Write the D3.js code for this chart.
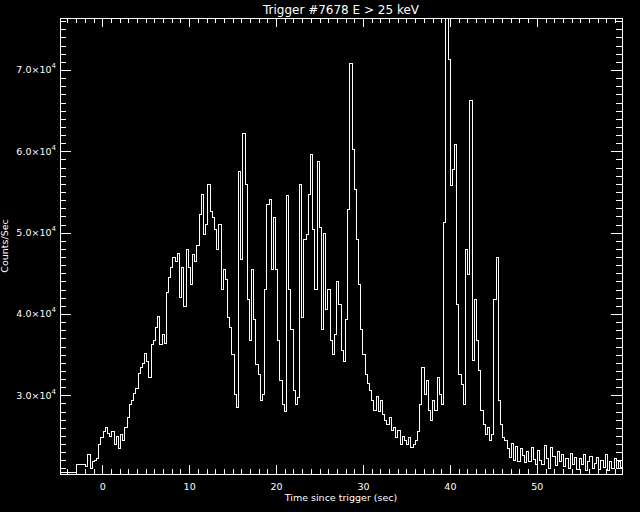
<!DOCTYPE html>
<html>
<head>
<meta charset="utf-8">
<script src="https://cdn.jsdelivr.net/npm/d3@7"></script>
<style>
  html, body { margin: 0; padding: 0; background: #000; }
  svg { display: block; background: #000; }
  text { fill: #fff; font-family: "DejaVu Sans", sans-serif; }
</style>
</head>
<body>
<svg id="chart" width="640" height="512"></svg>
<script>
// pre-trigger bins (1.024 s)
const preStart = [-4.86, -2.93];
const preCounts = [20480, 21510];

// burst bins, fixed width from fineStart
const fineStart = -1.91;
const binWidth = 0.2512;
const counts = [
  21300, 22660, 21060, 21800, 22040, 22290, 23890, 24750, 25490, 25980, // -1.9
  25360, 24990, 25610, 23890, 24990, 23520, 25120, 24500, 26100, 27210, // 0.6
  28810, 29420, 30280, 30780, 32620, 33360, 33850, 35080, 34100, 32130, // 3.1
  36190, 36800, 38280, 39630, 36190, 37420, 36310, 42580, 44430, 45660, // 5.6
  46890, 46400, 47380, 41970, 45660, 40980, 47870, 45660, 43570, 47260, // 8.1
  46400, 48360, 52180, 54640, 49720, 50950, 55870, 52550, 51810, 50330, // 10.6
  47870, 50950, 42950, 45410, 44180, 39510, 38280, 34960, 30040, 28440, // 13.2
  57470, 46640, 62140, 55870, 41720, 36800, 45410, 39260, 33730, 32500, // 15.7
  29420, 30040, 42950, 53410, 54020, 45410, 51810, 45410, 36800, 31880, // 18.2
  28810, 27950, 54510, 42950, 38030, 30650, 28810, 29670, 55870, 39510, // 20.7
  49100, 49720, 54640, 59560, 50330, 42950, 58700, 50580, 38030, 49840, // 23.2
  40490, 42950, 36800, 34960, 37420, 43940, 41110, 35570, 34100, 39260, // 25.7
  52790, 70750, 60170, 55250, 49100, 43570, 38030, 34960, 32500, 31510, // 28.2
  30650, 29420, 28190, 29910, 27950, 29420, 27580, 26960, 26350, 27210, // 30.7
  25730, 25980, 24750, 25730, 23890, 24990, 24500, 23890, 24750, 23640, // 33.3
  24010, 24500, 25490, 28810, 33360, 30040, 31880, 28190, 26960, 29420, // 35.8
  28190, 32130, 30040, 28810, 51190, 78500, 71240, 55740, 57710, 60790, // 38.3
  41110, 32500, 31270, 28810, 47870, 44800, 66200, 34340, 41720, 36800, // 40.8
  33110, 28190, 26350, 25120, 25980, 24500, 25120, 41720, 46890, 29420, // 43.3
  26350, 24870, 24500, 23520, 22410, 24130, 22040, 23760, 21920, 23400, // 45.8
  22650, 21680, 23150, 21800, 23640, 22160, 21550, 23270, 22040, 21430, // 48.3
  23880, 22290, 21060, 23640, 22530, 21310, 23030, 21800, 22770, 21190, // 50.8
  22290, 20940, 22900, 21550, 22410, 20820, 22170, 21430, 22660, 20700, // 53.4
  21920, 22530, 20940, 21670, 22410, 20820, 22040, 21180, 22780, 20700, // 55.9
  21920, 21060, 22290, 20940, 21920, 21180                              // 58.4
];

// axis ticks
const xMajor = [0, 10, 20, 30, 40, 50];
const xMinor = d3.range(-4, 60, 1);
const yMajor = [30000, 40000, 50000, 60000, 70000];
const yMinor = d3.range(21000, 77000, 1000);

const titleText = "Trigger #7678 E > 25 keV";
const xTitle = "Time since trigger (sec)";
const yTitle = "Counts/Sec";

const margin = {left: 60, top: 18, right: 18, bottom: 38};
const W = 640, H = 512;
const iw = W - margin.left - margin.right;
const ih = H - margin.top - margin.bottom;

const svg = d3.select("#chart");

const x = d3.scaleLinear().domain([-4.86, 59.8]).range([0, iw]);
const y = d3.scaleLinear().domain([20323, 76394]).range([ih, 0]);

const g = svg.append("g")
    .attr("transform", `translate(${margin.left},${margin.top})`);

// step points
const pts = [];
preStart.forEach((t, i) => pts.push([t, preCounts[i]]));
counts.forEach((c, i) => pts.push([fineStart + i * binWidth, c]));
pts.push([fineStart + counts.length * binWidth, counts[counts.length - 1]]);

svg.append("clipPath").attr("id", "clip")
  .append("rect").attr("width", iw).attr("height", ih);

const line = d3.line()
    .x(d => x(d[0]))
    .y(d => y(d[1]))
    .curve(d3.curveStepAfter);

g.append("path")
    .datum(pts)
    .attr("clip-path", "url(#clip)")
    .attr("d", line)
    .attr("fill", "none")
    .attr("stroke", "#fff")
    .attr("stroke-width", 1)
    .attr("shape-rendering", "crispEdges");

// ticks point inward on all four sides
const xTickLen = ih * 0.02, yTickLen = iw * 0.02;

function styleAxis(sel) {
  sel.select(".domain").remove();
  sel.selectAll("line").attr("stroke", "#fff").attr("shape-rendering", "crispEdges");
  sel.selectAll("text").attr("fill", "#fff").attr("font-family", "DejaVu Sans").attr("font-size", 9.5);
}

g.append("g").attr("transform", `translate(0,${ih})`)
    .call(d3.axisBottom(x).tickValues(xMinor).tickSize(-xTickLen / 2).tickFormat(""))
    .call(styleAxis);
g.append("g").attr("transform", `translate(0,${ih})`)
    .call(d3.axisBottom(x).tickValues(xMajor).tickSize(-xTickLen).tickPadding(9).tickFormat(d3.format("d")))
    .call(styleAxis);
g.append("g")
    .call(d3.axisTop(x).tickValues(xMinor).tickSize(-xTickLen / 2).tickFormat(""))
    .call(styleAxis);
g.append("g")
    .call(d3.axisTop(x).tickValues(xMajor).tickSize(-xTickLen).tickFormat(""))
    .call(styleAxis);

g.append("g")
    .call(d3.axisLeft(y).tickValues(yMinor).tickSize(-yTickLen / 2).tickFormat(""))
    .call(styleAxis);
const yAx = g.append("g")
    .call(d3.axisLeft(y).tickValues(yMajor).tickSize(-yTickLen).tickFormat(""))
    .call(styleAxis);
g.append("g").attr("transform", `translate(${iw},0)`)
    .call(d3.axisRight(y).tickValues(yMinor).tickSize(-yTickLen / 2).tickFormat(""))
    .call(styleAxis);
g.append("g").attr("transform", `translate(${iw},0)`)
    .call(d3.axisRight(y).tickValues(yMajor).tickSize(-yTickLen).tickFormat(""))
    .call(styleAxis);

// y labels like 7.0x10^4
yAx.selectAll(".tick").each(function(d) {
  const exp = Math.floor(Math.log10(d));
  const t = d3.select(this).append("text")
      .attr("x", -4)
      .attr("y", 3)
      .attr("text-anchor", "end")
      .attr("font-size", 9.5);
  t.append("tspan").text((d / Math.pow(10, exp)).toFixed(1) + "\u00d710");
  t.append("tspan").attr("dy", -5).attr("font-size", 7).text(exp);
});

// frame
g.append("rect")
    .attr("width", iw).attr("height", ih)
    .attr("fill", "none").attr("stroke", "#fff")
    .attr("shape-rendering", "crispEdges");

svg.append("text")
    .attr("x", margin.left + iw / 2).attr("y", 14)
    .attr("text-anchor", "middle").attr("font-size", 12)
    .text(titleText);

svg.append("text")
    .attr("x", margin.left + iw / 2).attr("y", 501)
    .attr("text-anchor", "middle").attr("font-size", 9.5)
    .text(xTitle);

svg.append("text")
    .attr("transform", "translate(8,246) rotate(-90)")
    .attr("text-anchor", "middle").attr("font-size", 9.5)
    .text(yTitle);
</script>
</body>
</html>
